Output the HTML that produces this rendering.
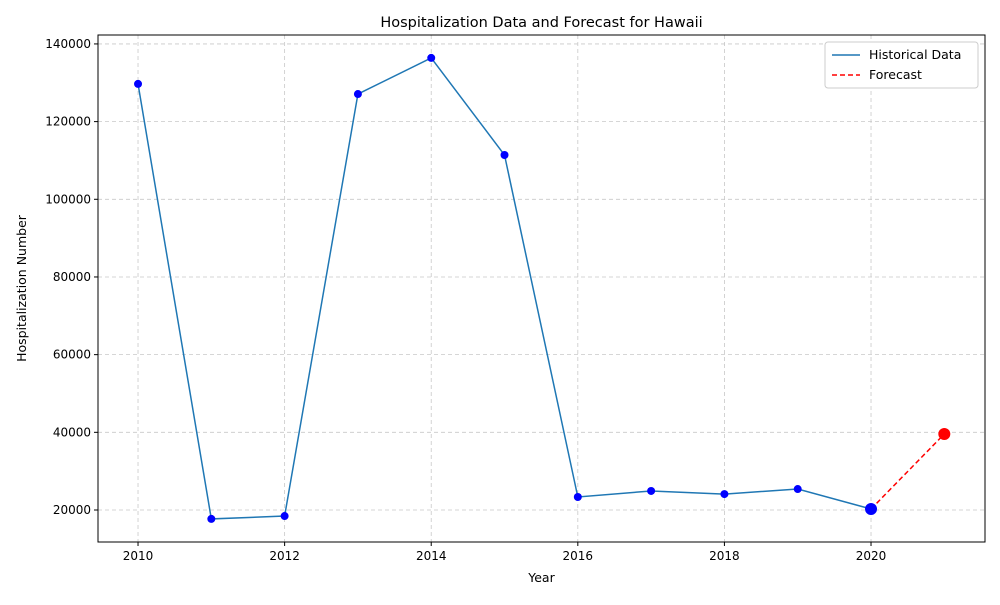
<!DOCTYPE html>
<html><head><meta charset="utf-8"><style>
body{margin:0;background:#fff;font-family:"Liberation Sans","DejaVu Sans",sans-serif;}
svg text{font-family:"DejaVu Sans","Liberation Sans",sans-serif;}
</style></head><body>
<svg id="chart" width="1000" height="600" xmlns="http://www.w3.org/2000/svg"></svg>
<script>
const years=[2010,2011,2012,2013,2014,2015,2016,2017,2018,2019,2020];
const values=[129700,17700,18450,127100,136400,111400,23350,24900,24100,25400,20250];
const forecastYears=[2020,2021];
const forecastValues=[20250,39570];
const xTicks=[2010,2012,2014,2016,2018,2020];
const yTicks=[20000,40000,60000,80000,100000,120000,140000];

const L=98,R=985,T=35,B=542;
const xMin=2009.454,xMax=2021.555,yMin=11760,yMax=142300;
const X=v=>L+(v-xMin)/(xMax-xMin)*(R-L);
const Y=v=>B-(v-yMin)/(yMax-yMin)*(B-T);
const svg=document.getElementById('chart');
const NS='http://www.w3.org/2000/svg';
function mk(tag,attrs,parent){const e=document.createElementNS(NS,tag);for(const k in attrs)e.setAttribute(k,attrs[k]);(parent||svg).appendChild(e);return e;}

xTicks.forEach(t=>{
  const g=mk('line',{x1:X(t),x2:X(t),y1:T,y2:B,stroke:'#c8c8c8','stroke-dasharray':'4,3','stroke-width':0.8});
  
  
  mk('line',{x1:X(t),x2:X(t),y1:B,y2:B+4,stroke:'#000'});
  const tx=mk('text',{x:X(t),y:B+18,'text-anchor':'middle','font-size':12});
  tx.textContent=t;
  
  
});
yTicks.forEach(t=>{
  const g=mk('line',{x1:L,x2:R,y1:Y(t),y2:Y(t),stroke:'#c8c8c8','stroke-dasharray':'4,3','stroke-width':0.8});
  
  
  mk('line',{x1:L-4,x2:L,y1:Y(t),y2:Y(t),stroke:'#000'});
  const tx=mk('text',{x:L-7,y:Y(t)+4,'text-anchor':'end','font-size':12});
  tx.textContent=t;
  
  
});

const hl=mk('polyline',{points:years.map((y,i)=>X(y)+','+Y(values[i])).join(' '),fill:'none',stroke:'#1f77b4','stroke-width':1.5});


const fl=mk('polyline',{points:forecastYears.map((y,i)=>X(y)+','+Y(forecastValues[i])).join(' '),fill:'none',stroke:'#ff0000','stroke-width':1.5,'stroke-dasharray':'5,3'});


years.forEach((y,i)=>{
  const last=i===years.length-1;
  const c=mk('circle',{cx:X(y),cy:Y(values[i]),r:last?6:4,fill:'#0000ff'});
  
  
});
const fp=mk('circle',{cx:X(forecastYears[1]),cy:Y(forecastValues[1]),r:6,fill:'#ff0000'});



const fr=mk('rect',{x:L,y:T,width:R-L,height:B-T,fill:'none',stroke:'#000','stroke-width':1});



const title=mk('text',{x:(L+R)/2,y:27,'text-anchor':'middle','font-size':14.5});
title.textContent='Hospitalization Data and Forecast for Hawaii';


const xt=mk('text',{x:(L+R)/2,y:582,'text-anchor':'middle','font-size':12.5});
xt.textContent='Year';


const yt=mk('text',{x:26,y:(T+B)/2,'text-anchor':'middle','font-size':12.5,transform:'rotate(-90 26 '+((T+B)/2)+')'});
yt.textContent='Hospitalization Number';



const lg=mk('g',{});


mk('rect',{x:825,y:42,width:153,height:46,fill:'#fff',stroke:'#ccc',rx:3},lg);
mk('line',{x1:832,x2:860,y1:55,y2:55,stroke:'#1f77b4','stroke-width':1.5},lg);
const l1=mk('text',{x:869,y:59,'font-size':12.5},lg);l1.textContent='Historical Data';


mk('line',{x1:832,x2:860,y1:75,y2:75,stroke:'#ff0000','stroke-width':1.5,'stroke-dasharray':'5,3'},lg);
const l2=mk('text',{x:869,y:79,'font-size':12.5},lg);l2.textContent='Forecast';


</script>
</body></html>
